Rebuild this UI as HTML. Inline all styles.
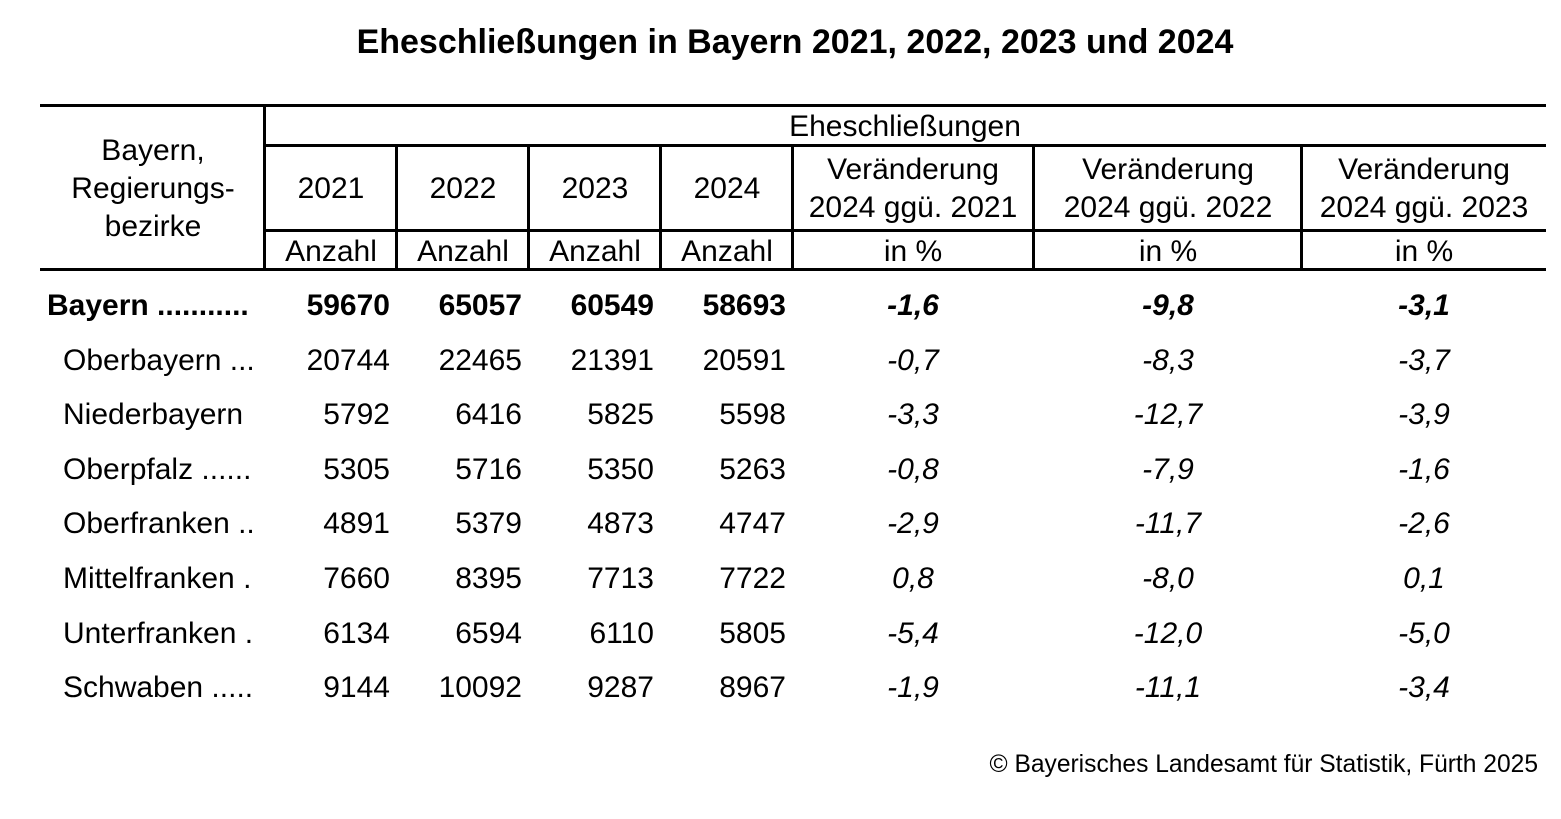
<!DOCTYPE html>
<html><head><meta charset="utf-8"><style>
body{margin:0;width:1561px;height:819px;background:#fff;position:relative;font-family:"Liberation Sans",Arial,sans-serif;color:#000;overflow:hidden}
.l{position:absolute;background:#000}
.t{position:absolute;font-size:30px;line-height:30px;white-space:nowrap}
.c{transform:translateX(-50%);text-align:center}
.r{transform:translateX(-100%)}
</style></head><body>
<div class="t c" style="left:795px;top:27px;font-size:34px;font-weight:bold">Eheschließungen in Bayern 2021, 2022, 2023 und 2024</div>
<div class="l" style="left:40px;top:104px;width:1506px;height:3px"></div>
<div class="l" style="left:263px;top:104px;width:3px;height:167px"></div>
<div class="l" style="left:263px;top:144px;width:1283px;height:3px"></div>
<div class="l" style="left:263px;top:229px;width:1283px;height:3px"></div>
<div class="l" style="left:40px;top:268px;width:1506px;height:3px"></div>
<div class="l" style="left:395px;top:144px;width:3px;height:127px"></div>
<div class="l" style="left:527px;top:144px;width:3px;height:127px"></div>
<div class="l" style="left:659px;top:144px;width:3px;height:127px"></div>
<div class="l" style="left:791px;top:144px;width:3px;height:127px"></div>
<div class="l" style="left:1032px;top:144px;width:3px;height:127px"></div>
<div class="l" style="left:1300px;top:144px;width:3px;height:127px"></div>
<div class="t c" style="left:153px;top:132px;line-height:38px">Bayern,<br>Regierungs-<br>bezirke</div>
<div class="t c" style="left:905px;top:112px">Eheschließungen</div>
<div class="t c" style="left:331px;top:174px">2021</div>
<div class="t c" style="left:463px;top:174px">2022</div>
<div class="t c" style="left:595px;top:174px">2023</div>
<div class="t c" style="left:727px;top:174px">2024</div>
<div class="t c" style="left:913px;top:151px;line-height:38px">Veränderung<br>2024 ggü. 2021</div>
<div class="t c" style="left:1168px;top:151px;line-height:38px">Veränderung<br>2024 ggü. 2022</div>
<div class="t c" style="left:1424px;top:151px;line-height:38px">Veränderung<br>2024 ggü. 2023</div>
<div class="t c" style="left:331px;top:237px">Anzahl</div>
<div class="t c" style="left:463px;top:237px">Anzahl</div>
<div class="t c" style="left:595px;top:237px">Anzahl</div>
<div class="t c" style="left:727px;top:237px">Anzahl</div>
<div class="t c" style="left:913px;top:237px">in %</div>
<div class="t c" style="left:1168px;top:237px">in %</div>
<div class="t c" style="left:1424px;top:237px">in %</div>
<div id="rows"></div>
<div class="t r" style="left:1538px;top:750px;font-size:24.6px">© Bayerisches Landesamt für Statistik, Fürth 2025</div>
<script>
var d=[["Bayern ...........",59670,65057,60549,58693,"-1,6","-9,8","-3,1"],
["Oberbayern ...",20744,22465,21391,20591,"-0,7","-8,3","-3,7"],
["Niederbayern",5792,6416,5825,5598,"-3,3","-12,7","-3,9"],
["Oberpfalz ......",5305,5716,5350,5263,"-0,8","-7,9","-1,6"],
["Oberfranken ..",4891,5379,4873,4747,"-2,9","-11,7","-2,6"],
["Mittelfranken .",7660,8395,7713,7722,"0,8","-8,0","0,1"],
["Unterfranken .",6134,6594,6110,5805,"-5,4","-12,0","-5,0"],
["Schwaben .....",9144,10092,9287,8967,"-1,9","-11,1","-3,4"]];
var h="";d.forEach(function(r,i){var y=291+i*54.6;var b=i==0?"font-weight:bold;":"";
h+='<div class="t" style="'+b+'left:'+(i==0?47:63)+'px;top:'+y+'px">'+r[0]+'</div>';
[390,522,654,786].forEach(function(x,j){h+='<div class="t r" style="'+b+'left:'+x+'px;top:'+y+'px">'+r[j+1]+'</div>'});
[913,1168,1424].forEach(function(x,j){h+='<div class="t c" style="'+b+'font-style:italic;left:'+x+'px;top:'+y+'px">'+r[j+5]+'</div>'});});
document.getElementById("rows").innerHTML=h;
</script>
</body></html>
